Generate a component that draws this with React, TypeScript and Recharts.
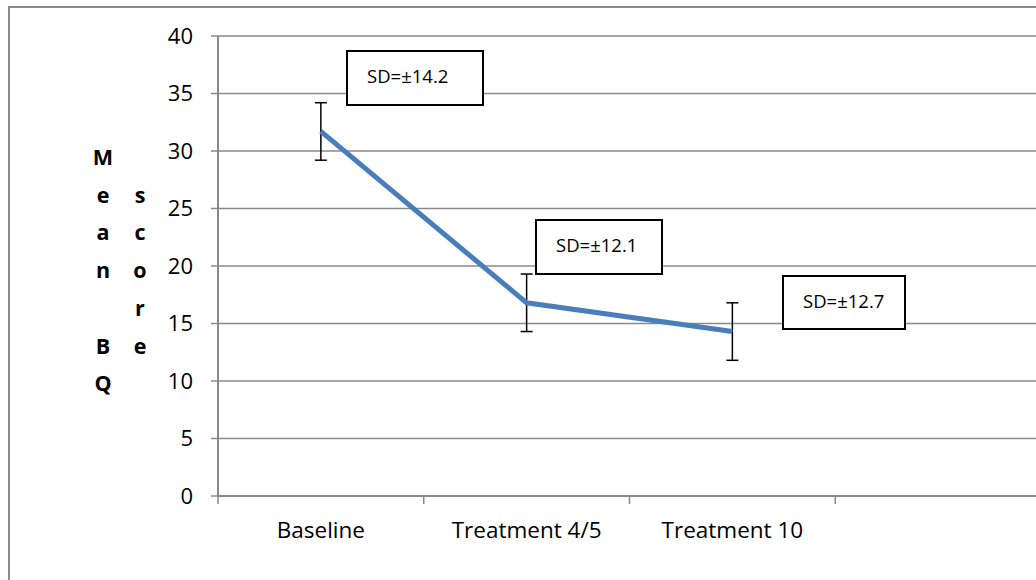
import { LineChart, Line, XAxis, YAxis, CartesianGrid, ErrorBar } from 'recharts';

const categories = ['Baseline', 'Treatment 4/5', 'Treatment 10'];
const meanScores = [31.7, 16.8, 14.3];
const errorSizes = [2.5, 2.5, 2.5];
const yTicks = [0, 5, 10, 15, 20, 25, 30, 35, 40];
const sdLabels = ['SD=±14.2', 'SD=±12.1', 'SD=±12.7'];
const titleLeft = ['M', 'e', 'a', 'n', '', 'B', 'Q'];
const titleRight = ['', 's', 'c', 'o', 'r', 'e', ''];

const data = categories.map((name, i) => ({
  x: i + 0.5,
  name,
  mean: meanScores[i],
  err: errorSizes[i],
}));

const FONT = '"Open Sans", sans-serif';
const GRAY = '#8a8a8a';

// boxes for SD notes, page pixels
const boxes = [
  { left: 346, top: 50, width: 138, height: 56 },
  { left: 535, top: 219, width: 128, height: 56 },
  { left: 782, top: 275, width: 124, height: 55 },
];

function XTick(props: any) {
  const { x, y, payload } = props;
  const v = payload.value as number;
  if (Number.isInteger(v)) {
    return <line x1={x} x2={x} y1={y} y2={y + 8} stroke={GRAY} strokeWidth={1.5} />;
  }
  const label = categories[Math.floor(v)] ?? '';
  return (
    <text x={x} y={y + 34} dy="0.355em" textAnchor="middle" fill="#000" fontSize={22.5} fontFamily={FONT}>
      {label}
    </text>
  );
}

export default function App() {
  return (
    <div style={{ position: 'absolute', left: 0, top: 0, width: 1036, height: 580, overflow: 'hidden', background: '#fff' }}>
      <div
        style={{
          position: 'absolute',
          left: 8,
          top: 6,
          width: 1200,
          height: 800,
          border: `2px solid ${GRAY}`,
        }}
      />
      <div style={{ position: 'absolute', left: 0, top: 0 }}>
        <LineChart width={1100} height={580} data={data} margin={{ top: 36, right: 59, bottom: 54, left: 158 }}>
          <CartesianGrid vertical={false} stroke={GRAY} strokeWidth={1.5} />
          <XAxis
            type="number"
            dataKey="x"
            domain={[0, 4]}
            ticks={[0, 0.5, 1, 1.5, 2, 2.5, 3, 4]}
            allowDecimals
            height={30}
            tickSize={0}
            tickMargin={0}
            tickLine={false}
            axisLine={{ stroke: GRAY, strokeWidth: 2 }}
            tick={<XTick />}
            interval={0}
          />
          <YAxis
            domain={[0, 40]}
            ticks={yTicks}
            width={60}
            tickSize={7}
            tickMargin={18}
            interval={0}
            axisLine={{ stroke: GRAY, strokeWidth: 2 }}
            tickLine={{ stroke: GRAY, strokeWidth: 1.5 }}
            tick={{ fill: '#000', fontSize: 22, fontFamily: FONT }}
          />
          <Line
            dataKey="mean"
            stroke="#4a7ebb"
            strokeWidth={5}
            dot={false}
            isAnimationActive={false}
          >
            <ErrorBar dataKey="err" width={6} stroke="#000" strokeWidth={1.5} direction="y" />
          </Line>
        </LineChart>
      </div>
      {titleLeft.map((ch, i) => (
        <div key={'l' + i} style={{ position: 'absolute', left: 88, top: 157 + i * 37.7 - 15, width: 30, textAlign: 'center', fontFamily: FONT, fontWeight: 700, fontSize: 21.5, lineHeight: '30px' }}>
          {ch}
        </div>
      ))}
      {titleRight.map((ch, i) => (
        <div key={'r' + i} style={{ position: 'absolute', left: 125, top: 157 + i * 37.7 - 15, width: 30, textAlign: 'center', fontFamily: FONT, fontWeight: 700, fontSize: 21.5, lineHeight: '30px' }}>
          {ch}
        </div>
      ))}
      {sdLabels.map((s, i) => (
        <div
          key={s}
          style={{
            position: 'absolute',
            left: boxes[i].left,
            top: boxes[i].top,
            width: boxes[i].width,
            height: boxes[i].height,
            boxSizing: 'border-box',
            border: '2px solid #000',
            background: '#fff',
            fontFamily: FONT,
            fontSize: 18.5,
            lineHeight: `${boxes[i].height - 8}px`,
            paddingLeft: 19,
            whiteSpace: 'nowrap',
          }}
        >
          {s}
        </div>
      ))}
    </div>
  );
}
